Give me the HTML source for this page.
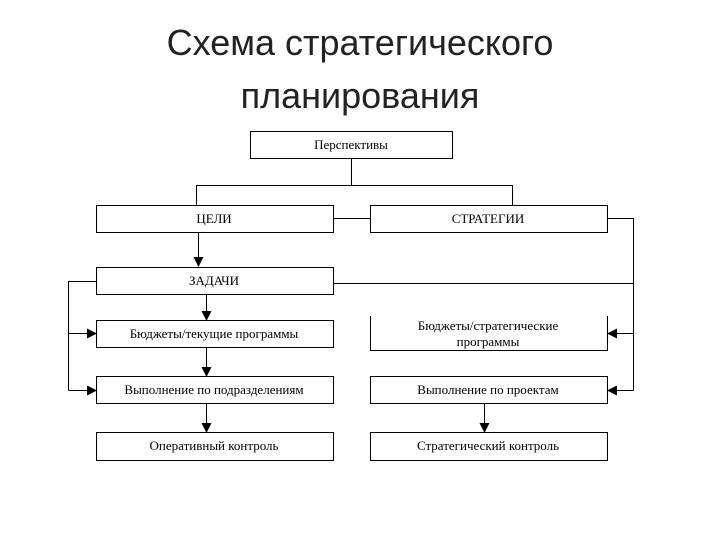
<!DOCTYPE html>
<html><head><meta charset="utf-8"><style>
body{margin:0;background:#fff;width:720px;height:540px;overflow:hidden;position:relative;font-family:"Liberation Serif",serif}
.t{position:absolute;left:0;width:720px;text-align:center;font-family:"Liberation Sans",sans-serif;font-size:36px;color:#222}
</style></head><body>
<div class="t" style="top:22px">Схема стратегического</div>
<div class="t" style="top:75px">планирования</div>
<svg width="720" height="540" style="position:absolute;left:0;top:0" font-family="Liberation Serif, serif" font-size="13" text-anchor="middle">
<defs><marker id="a" markerWidth="10" markerHeight="10" refX="9" refY="5" orient="auto" markerUnits="userSpaceOnUse"><path d="M0,0L10,5L0,10z" fill="#000"/></marker></defs>
<g fill="#fff" stroke="#000" stroke-width="1">
<rect x="250.5" y="131.5" width="202" height="27"/>
<rect x="96.5" y="205.5" width="237" height="27"/>
<rect x="370.5" y="205.5" width="237" height="27"/>
<rect x="96.5" y="267.5" width="237" height="27"/>
<rect x="96.5" y="320.5" width="237" height="27"/>
<rect x="96.5" y="376.5" width="237" height="27"/>
<rect x="370.5" y="376.5" width="237" height="27"/>
<rect x="96.5" y="432.5" width="237" height="28"/>
<rect x="370.5" y="432.5" width="237" height="28"/>
</g>
<path d="M370.5,316V350.5H607.5V316" fill="none" stroke="#000"/>
<g fill="none" stroke="#000" stroke-width="1">
<path d="M351.5,158V185.5M196.5,205V185.5H512.5V205"/>
<path d="M333,218.5H370"/>
<path d="M607,218.5H633.5V390.5M333,283.5H633.5"/>
<path d="M96,281.5H68.5V390.5"/>
<path d="M198.5,232V266" marker-end="url(#a)"/>
<path d="M206.5,294V320" marker-end="url(#a)"/>
<path d="M206.5,347V376" marker-end="url(#a)"/>
<path d="M206.5,403V432" marker-end="url(#a)"/>
<path d="M484.5,403V432" marker-end="url(#a)"/>
<path d="M68.5,333.5H96" marker-end="url(#a)"/>
<path d="M68.5,390.5H96" marker-end="url(#a)"/>
<path d="M633.5,333.5H608" marker-end="url(#a)"/>
<path d="M633.5,390.5H608" marker-end="url(#a)"/>
</g>
<g fill="#000">
<text x="351" y="149">Перспективы</text>
<text x="214" y="223">ЦЕЛИ</text>
<text x="488" y="223">СТРАТЕГИИ</text>
<text x="214" y="285">ЗАДАЧИ</text>
<text x="214" y="338">Бюджеты/текущие программы</text>
<text x="488" y="330">Бюджеты/стратегические</text>
<text x="488" y="346">программы</text>
<text x="214" y="394">Выполнение по подразделениям</text>
<text x="488" y="394">Выполнение по проектам</text>
<text x="214" y="450">Оперативный контроль</text>
<text x="488" y="450">Стратегический контроль</text>
</g>
</svg>
</body></html>
